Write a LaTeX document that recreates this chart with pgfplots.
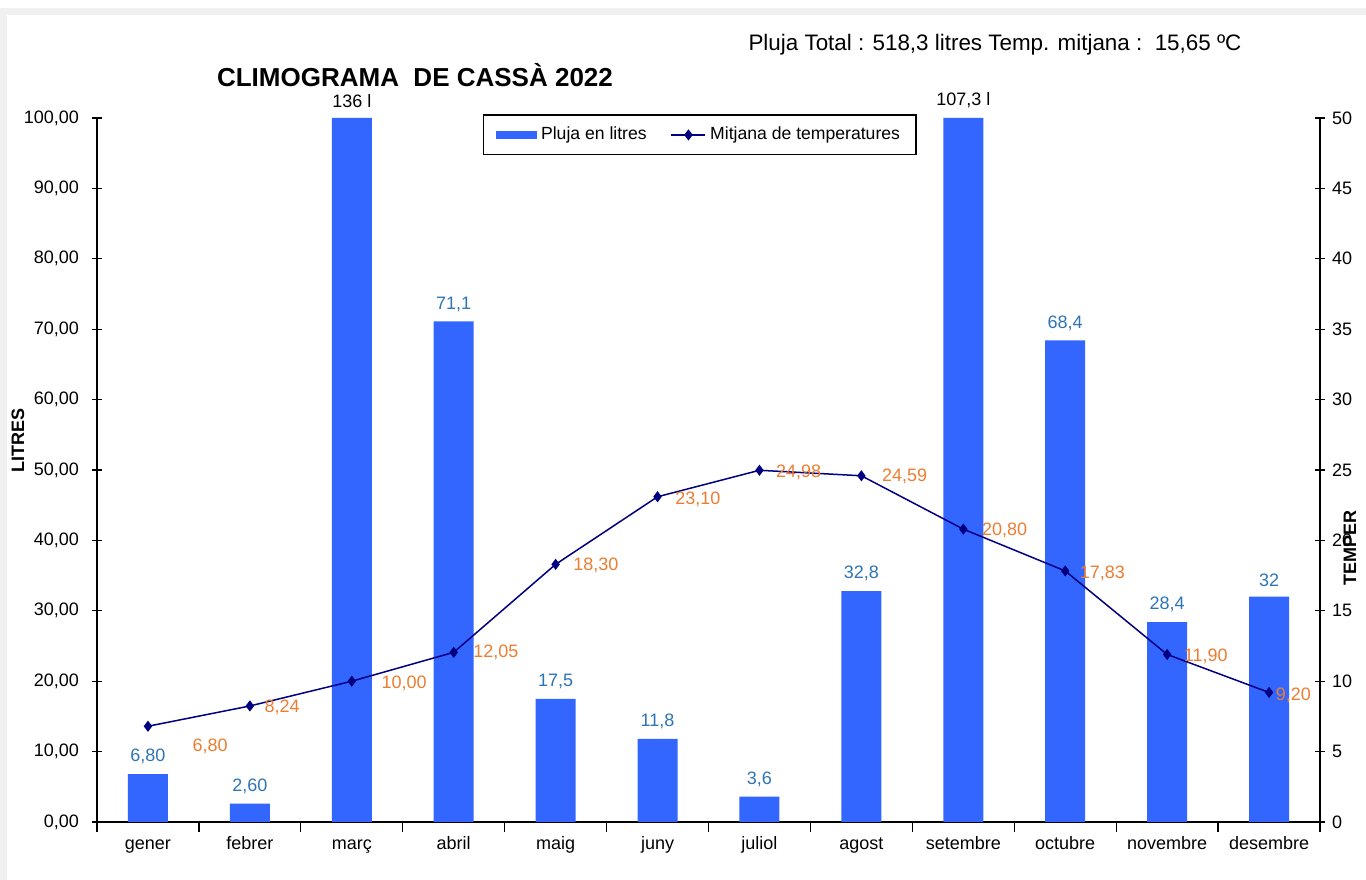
\documentclass[border=0pt]{standalone}
\usepackage{fontspec}
\setmainfont{Liberation Sans}
\usepackage{pgfplots}
\usepackage{pgfplotstable}
\pgfplotsset{compat=1.18}
\pgfkeys{/pgf/number format/assume math mode=true}
\definecolor{barblue}{RGB}{51,102,255}
\definecolor{lblblue}{RGB}{46,117,182}
\definecolor{lblorange}{RGB}{237,125,49}
\definecolor{navyline}{RGB}{0,0,128}
\definecolor{framegray}{RGB}{240,240,240}

\pgfplotstableread{
x y lab
0 6.8 {6,80}
1 2.6 {2,60}
3 71.1 {71,1}
4 17.5 {17,5}
5 11.8 {11,8}
6 3.6 {3,6}
7 32.8 {32,8}
9 68.4 {68,4}
10 28.4 {28,4}
11 32 {32}
}\rainnormal
\pgfplotstableread{
x y lab
2 136 {136 l}
8 107.3 {107,3 l}
}\rainbig
\pgfplotstableread{
x t dx dy
0 6.80 22 -10
1 8.24 7 -0.5
2 10.00 14.5 -1
3 12.05 9.5 0
4 18.30 8.5 -0.5
5 23.10 8.5 -1.5
6 24.98 8 -1
7 24.59 10 -0.5
8 20.80 9 -0.5
9 17.83 7 -1
10 11.90 8 -1
11 9.20 3 -1.5
}\temps

\pgfplotsset{myaxis/.style={
  scale only axis, width=611.5bp, height=352bp,
  xmin=-0.5, xmax=11.5,
  at={(48.5bp,29bp)}, anchor=south west,
  tick align=center, major tick length=5bp,
  tick style={black, line width=0.6bp},
  axis line style={black, line width=0.6bp, -},
  ticklabel style={font=\fontsize{9bp}{10bp}\selectfont},
}}

\begin{document}
\begin{tikzpicture}
\path[use as bounding box] (0,0) rectangle (683bp,440bp);
\fill[white] (0,0) rectangle (683bp,440bp);
\fill[framegray] (0,436bp) rectangle (683bp,432.5bp);
\fill[framegray] (0,0) rectangle (3.5bp,436bp);

\begin{axis}[myaxis,
  ymin=0, ymax=100, ytick={0,10,...,100},
  axis x line*=bottom, axis y line*=left,
  xtick={-0.5,0.5,...,11.5}, xticklabels={},
  extra x ticks={0,...,11},
  extra x tick labels={gener,febrer,març,abril,maig,juny,juliol,agost,setembre,octubre,novembre,desembre},
  extra x tick style={major tick length=0pt, tick label style={yshift=-3.5bp, text height=6.5bp, text depth=2bp}},
  yticklabel style={xshift=-3bp, /pgf/number format/.cd, fixed, fixed zerofill, precision=2, use comma},
  every axis y label/.style={at={(axis description cs:-0.0646,0.5426)}, rotate=90, anchor=center, font=\bfseries\fontsize{9bp}{10bp}\selectfont},
  ylabel={LITRES},
  ybar, bar width=20bp,
  nodes near coords, point meta=explicit symbolic,
  nodes near coords style={font=\fontsize{9bp}{10bp}\selectfont, text=lblblue, yshift=1.5bp},
]
\addplot[fill=barblue, draw=none, bar shift=0pt] table[x=x, y=y, meta=lab] {\rainnormal};
\addplot[fill=barblue, draw=none, bar shift=0pt, restrict y to domain*=0:100,
  every node near coord/.append style={text=black}] table[x=x, y=y, meta=lab] {\rainbig};
\end{axis}

\begin{axis}[myaxis,
  ymin=0, ymax=50, ytick={0,5,...,50},
  axis x line=none, axis y line*=right,
  every axis y label/.style={at={(axis description cs:1.0245,0.389)}, rotate=90, anchor=center, font=\bfseries\fontsize{9bp}{10bp}\selectfont},
  ylabel={TEMPER},
  legend style={at={(0.493,1.005)}, anchor=north, legend columns=2, draw=black, line width=0.6bp,
    font=\fontsize{8.8bp}{10bp}\selectfont, inner ysep=4bp, inner xsep=6bp,
    /tikz/every even column/.append style={column sep=10bp}},
]
\addlegendimage{legend image code/.code={\fill[barblue] (0bp,-1.75bp) rectangle (20bp,1.75bp);}}
\addlegendentry{Pluja en litres}
\addplot[navyline, line width=0.75bp, mark=diamond*, mark size=2.2bp,
  visualization depends on={\thisrow{dx} \as \dx},
  visualization depends on={\thisrow{dy} \as \dy},
  point meta=\thisrow{t},
  nodes near coords={\pgfmathprintnumber[fixed,fixed zerofill,precision=2,use comma]{\pgfplotspointmeta}},
  every node near coord/.append style={anchor=west, inner sep=0pt, xshift=\dx bp, yshift=\dy bp, text=lblorange, font=\fontsize{9bp}{10bp}\selectfont},
] table[x=x, y=t] {\temps};
\addlegendentry{Mitjana de temperatures}
\end{axis}

\node[font=\bfseries\fontsize{13bp}{15bp}\selectfont] at (207.5bp,402.5bp) {CLIMOGRAMA\ \ DE CASSÀ 2022};
\node[font=\fontsize{11.2bp}{13bp}\selectfont] at (497.5bp,417.5bp) {Pluja Total : 518,3 litres Temp. mitjana :\ \ 15,65 ºC};
\end{tikzpicture}
\end{document}
